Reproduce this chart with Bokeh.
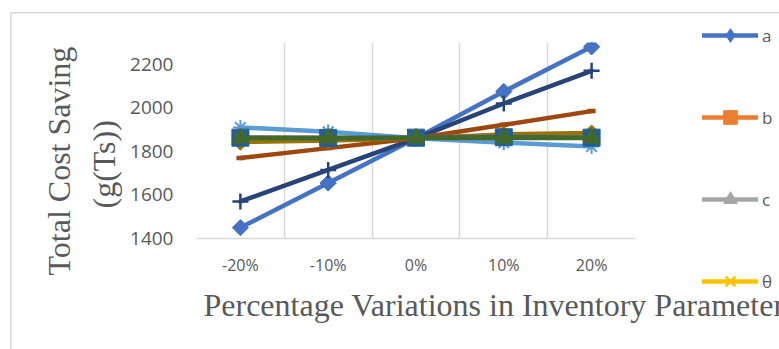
import numpy as np
from bokeh.plotting import figure
from bokeh.models import (ColumnDataSource, FixedTicker, Legend, LegendItem,
                          Range1d, Title)
from bokeh.embed import file_html
from bokeh.resources import INLINE

# ---- data -------------------------------------------------------------
X_LABELS = ["-20%", "-10%", "0%", "10%", "20%"]
Y_TICKS = [1400, 1600, 1800, 2000, 2200]

a_vals = [1450, 1655, 1860, 2075, 2280]
b_vals = [1862, 1862, 1862, 1864, 1863]
c_vals = [1862, 1862, 1862, 1864, 1863]
theta_vals = [1862, 1862, 1862, 1864, 1863]
s5_vals = [1910, 1890, 1860, 1840, 1822]
s7_vals = [1570, 1715, 1860, 2020, 2170]
s8_vals = [1770, 1815, 1860, 1922, 1985]
s10_vals = [1843, 1850, 1860, 1878, 1884]
s11_vals = [1863, 1862, 1863, 1865, 1863]
s12_vals = [1861, 1861, 1861, 1861, 1861]

# ---- figure -------------------------------------------------------------
LEFT, RIGHT, TOP, BOTTOM = 196, 144, 42, 111
FRAME_W, FRAME_H = 439, 196

p = figure(frame_width=FRAME_W, frame_height=FRAME_H,
           output_backend="svg", toolbar_location=None,
           min_border_left=LEFT, min_border_right=RIGHT,
           min_border_top=TOP, min_border_bottom=BOTTOM,
           x_range=Range1d(-0.5, len(X_LABELS) - 0.5), y_range=Range1d(1400, 2300))
p.outline_line_color = None
p.background_fill_color = "white"
p.border_fill_alpha = 0
# thin grey chart-area border on the top and left edges
p.styles = {
    "background": "linear-gradient(#d9d9d9,#d9d9d9) 10px 12px/1.5px 100% no-repeat,"
                  "linear-gradient(#d9d9d9,#d9d9d9) 10px 12px/100% 1.5px no-repeat,#ffffff"
}

x = list(range(len(X_LABELS)))
TITLE_FONT = "Liberation Serif"
TITLE_COLOR = "#595959"

# axes
p.xaxis.ticker = FixedTicker(ticks=x)
p.xaxis.major_label_overrides = {i: s for i, s in enumerate(X_LABELS)}
p.xaxis.axis_line_color = "#d9d9d9"
p.xaxis.axis_line_width = 1.5
p.xaxis.major_tick_line_color = None
p.xaxis.minor_tick_line_color = None
p.xaxis.major_tick_out = 0
p.xaxis.major_label_standoff = 15
p.xaxis.major_label_text_font = "Open Sans"
p.xaxis.major_label_text_font_size = "16px"
p.xaxis.major_label_text_color = "#595959"

p.yaxis.ticker = FixedTicker(ticks=Y_TICKS)
p.yaxis.axis_line_color = None
p.yaxis.major_tick_line_color = None
p.yaxis.minor_tick_line_color = None
p.yaxis.major_tick_out = 0
p.yaxis.major_label_standoff = 23
p.yaxis.major_label_text_font = "Open Sans"
p.yaxis.major_label_text_font_size = "19px"
p.yaxis.major_label_text_color = "#595959"

# vertical gridlines between categories, no horizontal ones
p.xgrid.ticker = FixedTicker(ticks=[i - 0.5 for i in range(len(X_LABELS) + 1)])
p.xgrid.grid_line_color = "#d9d9d9"
p.xgrid.grid_line_width = 1.5
p.ygrid.grid_line_color = None

LW = 4.5


def series(vals, color, marker, size, angle=0.0, line_w=1.0, fill=True, key_marker=None):
    src = ColumnDataSource(dict(x=x, y=vals))
    ln = p.line("x", "y", source=src, line_color=color, line_width=LW,
                line_cap="round", line_join="round")
    out = [ln]
    if key_marker is not None:
        # upright marker used for the legend key, drawn beneath the rotated one
        out.append(p.scatter("x", "y", source=src, marker=key_marker, size=size,
                             line_color=color, fill_color=color))
    mk = p.scatter("x", "y", source=src, marker=marker, size=size, angle=angle,
                   line_color=color, line_width=line_w,
                   fill_color=color if fill else None)
    if key_marker is None:
        out.append(mk)
    return out


r_a = series(a_vals, "#4472c4", "square", 11.5, angle=np.pi / 4, key_marker="diamond")
r_b = series(b_vals, "#ed7d31", "square", 15)
r_c = series(c_vals, "#a5a5a5", "triangle", 15)
r_t = series(theta_vals, "#ffc000", "x", 11, line_w=2.5, fill=False)
series(s5_vals, "#5b9bd5", "asterisk", 15, line_w=2, fill=False)
series(s7_vals, "#264478", "cross", 16, line_w=2.5, fill=False)
series(s8_vals, "#9e480e", "dash", 8, line_w=4.5, fill=False)
series(s10_vals, "#997300", "square", 11.5, angle=np.pi / 4)
series(s11_vals, "#255e91", "square", 17)
series(s12_vals, "#43682b", "triangle", 17)

legend = Legend(items=[LegendItem(label="a", renderers=r_a),
                       LegendItem(label="b", renderers=r_b),
                       LegendItem(label="c", renderers=r_c),
                       LegendItem(label="θ", renderers=r_t)],
                location=(67, -60),
                glyph_width=56, glyph_height=34, spacing=48,
                label_standoff=4, padding=0, margin=0,
                border_line_color=None, background_fill_alpha=0,
                label_text_font="Open Sans", label_text_font_size="17px",
                label_text_color="#595959")
p.add_layout(legend, "right")

# two-line y-axis title
p.add_layout(Title(text="(g(Ts))", align="left", offset=30, standoff=12,
                   text_font=TITLE_FONT, text_font_size="32px",
                   text_font_style="normal", text_color=TITLE_COLOR), "left")
p.add_layout(Title(text="Total Cost Saving", align="left", offset=-37, standoff=2,
                   text_font=TITLE_FONT, text_font_size="32px",
                   text_font_style="normal", text_color=TITLE_COLOR), "left")

# x-axis title, starting just right of the plot's left edge
p.add_layout(Title(text="Percentage Variations in Inventory Parameters", align="left",
                   offset=7, standoff=12,
                   text_font=TITLE_FONT, text_font_size="32px",
                   text_font_style="normal", text_color=TITLE_COLOR), "below")

open("out.html", "w").write(file_html(p, INLINE))
